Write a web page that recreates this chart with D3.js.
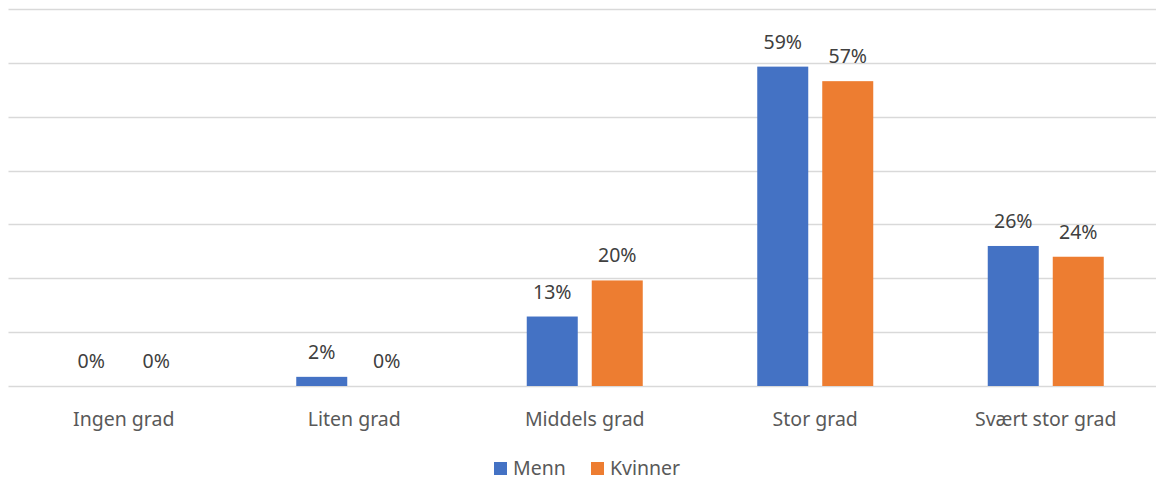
<!DOCTYPE html>
<html>
<head>
<meta charset="utf-8">
<script src="https://cdn.jsdelivr.net/npm/d3@7"></script>
<style>
  body { margin: 0; background: #fff; }
  text { font-family: "Noto Sans", "Open Sans", sans-serif; }
</style>
</head>
<body>
<div id="chart"></div>
<script>
let categories = ["Ingen grad", "Liten grad", "Middels grad", "Stor grad", "Svært stor grad"]
let seriesNames = ["Menn", "Kvinner"]
let menn = [0, 0.017, 0.129, 0.593, 0.26]
let kvinner = [0, 0, 0.196, 0.566, 0.24]
let yTicks = [0, 0.1, 0.2, 0.3, 0.4, 0.5, 0.6, 0.7]
let colors = ["#4472C4", "#ED7D31"]

let width = 1156, height = 481
let svg = d3.select("#chart")
    .append("svg")
    .attr("width", width)
    .attr("height", height)

let x0 = d3.scaleBand().domain(categories).range([8.5, 1161])
let x1 = d3.scaleBand().domain(seriesNames)
    .range([x0.bandwidth() / 2 - 58, x0.bandwidth() / 2 + 58])
    .paddingInner(0.2154)
let y = d3.scaleLinear().domain([0, 0.7]).range([386, 9])
let color = d3.scaleOrdinal().domain(seriesNames).range(colors)

// gridlines
svg.append("g")
    .selectAll("line")
    .data(yTicks)
    .join("line")
    .attr("x1", 8.5)
    .attr("x2", width)
    .attr("y1", d => Math.round(y(d)) + 0.5)
    .attr("y2", d => Math.round(y(d)) + 0.5)
    .attr("stroke", "#D9D9D9")
    .attr("stroke-width", 1.3)

let rows = categories.map((c, i) => ({ cat: c, values: [
    { key: "Menn", v: menn[i] },
    { key: "Kvinner", v: kvinner[i] }
] }))

let groups = svg.append("g")
    .selectAll("g")
    .data(rows)
    .join("g")
    .attr("transform", d => "translate(" + x0(d.cat) + ",0)")

groups.selectAll("rect")
    .data(d => d.values)
    .join("rect")
    .attr("x", d => x1(d.key))
    .attr("width", x1.bandwidth())
    .attr("y", d => y(d.v))
    .attr("height", d => y(0) - y(d.v))
    .attr("fill", d => color(d.key))

groups.selectAll("text")
    .data(d => d.values)
    .join("text")
    .attr("x", d => x1(d.key) + x1.bandwidth() / 2)
    .attr("y", d => y(d.v) - 18)
    .attr("text-anchor", "middle")
    .attr("font-size", 19.5)
    .attr("fill", "#404040")
    .text(d => d3.format(".0%")(d.v))

// x axis labels
svg.append("g")
    .selectAll("text")
    .data(categories)
    .join("text")
    .attr("x", d => x0(d) + x0.bandwidth() / 2)
    .attr("y", 426)
    .attr("text-anchor", "middle")
    .attr("font-size", 19.5)
    .attr("fill", "#595959")
    .text(d => d)

// legend
let legendX = [494, 591]
let legend = svg.append("g")
    .selectAll("g")
    .data(seriesNames)
    .join("g")
    .attr("transform", (d, i) => "translate(" + legendX[i] + ",0)")
legend.append("rect")
    .attr("x", 0)
    .attr("y", 462)
    .attr("width", 13)
    .attr("height", 13)
    .attr("fill", d => color(d))
legend.append("text")
    .attr("x", 19)
    .attr("y", 475)
    .attr("font-size", 19.5)
    .attr("fill", "#595959")
    .text(d => d)
</script>
</body>
</html>
